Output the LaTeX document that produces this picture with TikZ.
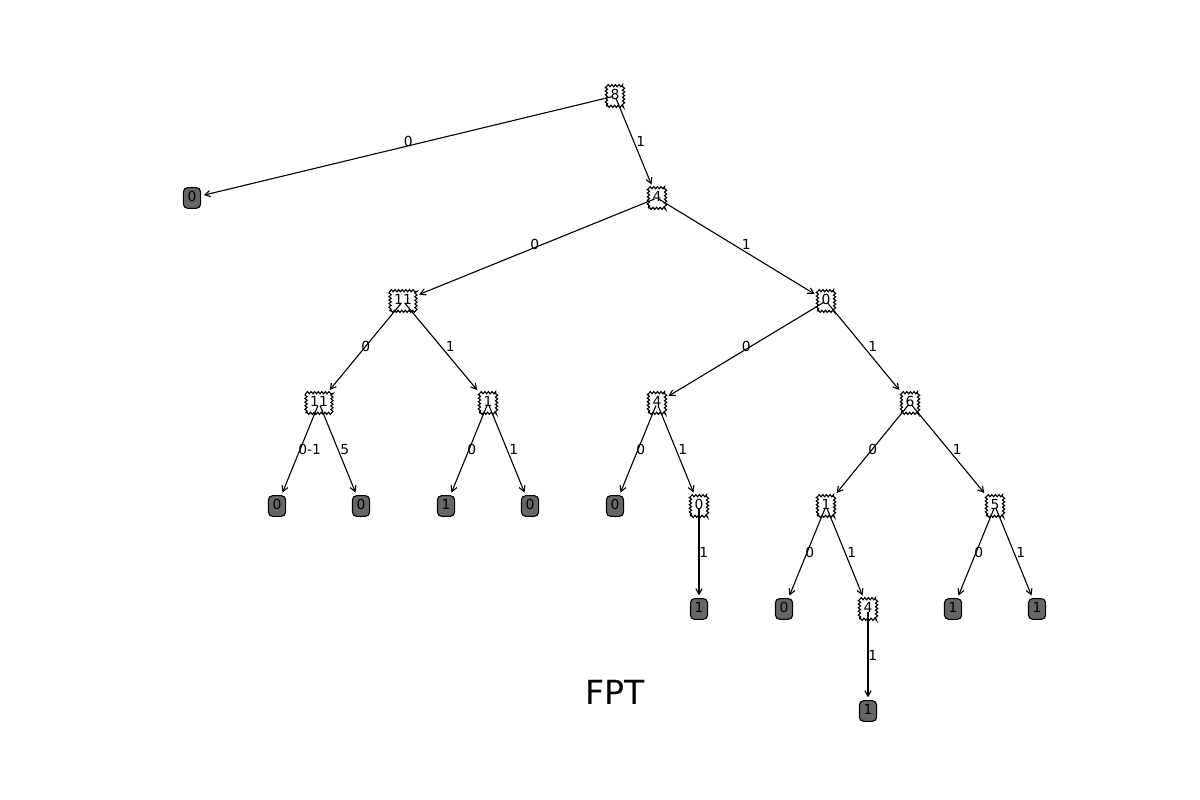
\documentclass[tikz,border=0pt]{standalone}
\usepackage{fontspec}
\setmainfont{DejaVu Sans}
\usepackage{tikz}
\usetikzlibrary{arrows.meta,calc,decorations.pathmorphing}
\definecolor{leafGray}{RGB}{102,102,102}

\begin{document}
\begin{tikzpicture}[
  x=0.01in, y=-0.01in,
  every node/.style={font=\fontsize{10}{12}\selectfont},
  split/.style={draw, line width=0.8pt, fill=white, inner sep=3pt, text height=7.3pt, text depth=1.6pt,
                decorate, decoration={zigzag, segment length=2.6pt, amplitude=0.8pt}},
  leaf/.style={draw, line width=0.8pt, fill=leafGray, rounded corners=3pt, inner sep=3pt,
               text height=7.3pt, text depth=1.6pt},
  edge/.style={line width=0.8pt, -{Straight Barb[length=4pt,width=4.5pt]},
               shorten <=2pt, shorten >=2pt},
  lbl/.style={anchor=base west, inner sep=0pt},
]
\useasboundingbox (0,0) rectangle (1200,800);

% level 0-1
\node[split] (r)  at (615,96)  {8};
\node[leaf]  (l1) at (192,198) {0};
\node[split] (b1) at (657,198) {4};
% level 2
\node[split] (b2) at (403,301) {11};
\node[split] (b3) at (826,301) {0};
% level 3
\node[split] (b4) at (319,403) {11};
\node[split] (b5) at (488,403) {1};
\node[split] (b6) at (657,403) {4};
\node[split] (b7) at (910,403) {6};
% level 4
\node[leaf]  (l2)  at (277,506) {0};
\node[leaf]  (l3)  at (361,506) {0};
\node[leaf]  (l4)  at (446,506) {1};
\node[leaf]  (l5)  at (530,506) {0};
\node[leaf]  (l6)  at (615,506) {0};
\node[split] (b8)  at (699,506) {0};
\node[split] (b9)  at (826,506) {1};
\node[split] (b10) at (995,506) {5};
% level 5
\node[leaf]  (l7)  at (699,609)  {1};
\node[leaf]  (l8)  at (784,609)  {0};
\node[split] (b11) at (868,609)  {4};
\node[leaf]  (l9)  at (953,609)  {1};
\node[leaf]  (l10) at (1037,609) {1};
% level 6
\node[leaf]  (l11) at (868,711) {1};

% edges: parent/child/label
\foreach \p/\c/\l in {r/l1/0, r/b1/1, b1/b2/0, b1/b3/1, b2/b4/0, b2/b5/1,
                      b3/b6/0, b3/b7/1, b4/l2/0-1, b4/l3/5, b5/l4/0, b5/l5/1,
                      b6/l6/0, b6/b8/1, b7/b9/0, b7/b10/1, b8/l7/1,
                      b9/l8/0, b9/b11/1, b10/l9/0, b10/l10/1, b11/l11/1}{
  \draw[edge] (\p.center) -- (\c);
  \node[lbl] at ($(\p)!.5!(\c)$) {\l};
}

\node[font=\fontsize{24}{28}\selectfont] (title) at (615,692) {FPT};
\end{tikzpicture}
\end{document}
